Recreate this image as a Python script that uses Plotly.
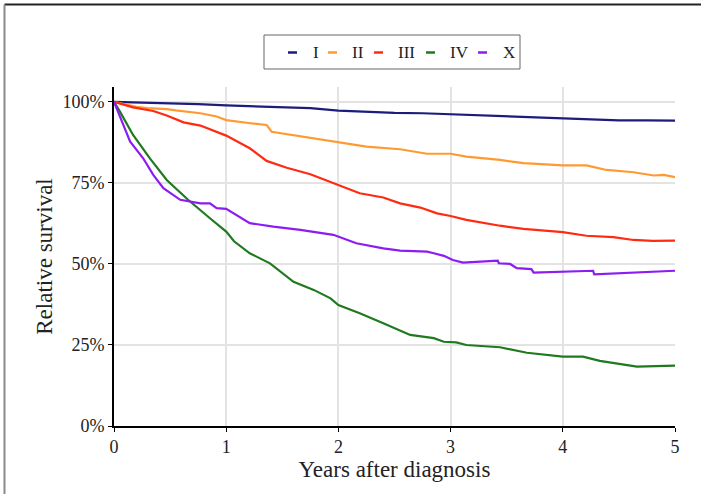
import plotly.graph_objects as go

# ---- data ----
series_names = ["I", "II", "III", "IV", "X"]
series_colors = ["#1c1c7c", "#ff9a33", "#ff2a12", "#1f7a1f", "#8c1cf2"]

t_I = [0, 0.25, 0.5, 0.75, 1.0, 1.25, 1.5, 1.75, 2.0, 2.25, 2.5, 2.75, 3.0, 3.25, 3.5, 3.75, 4.0, 4.25, 4.5, 4.75, 5.0]
s_I = [1.0, 0.998, 0.996, 0.993, 0.989, 0.986, 0.985, 0.981, 0.973, 0.969, 0.966, 0.965, 0.962, 0.959, 0.956, 0.953, 0.950, 0.946, 0.943, 0.943, 0.942]

t_II = [0, 0.1, 0.2, 0.3, 0.47, 0.55, 0.77, 0.915, 1.0, 1.2, 1.36, 1.405, 1.55, 1.75, 2.0, 2.25, 2.55, 2.79, 3.0, 3.14, 3.44, 3.65, 4.0, 4.21, 4.39, 4.63, 4.81, 4.9, 5.0]
s_II = [1.0, 0.993, 0.985, 0.981, 0.978, 0.974, 0.965, 0.955, 0.944, 0.935, 0.929, 0.908, 0.900, 0.888, 0.875, 0.862, 0.854, 0.840, 0.840, 0.831, 0.821, 0.811, 0.804, 0.804, 0.790, 0.783, 0.773, 0.775, 0.768]

t_III = [0, 0.17, 0.35, 0.47, 0.62, 0.77, 1.0, 1.21, 1.36, 1.54, 1.75, 2.0, 2.19, 2.4, 2.55, 2.73, 2.88, 3.0, 3.14, 3.44, 3.65, 4.0, 4.21, 4.45, 4.63, 4.8, 5.0]
s_III = [1.0, 0.983, 0.972, 0.958, 0.937, 0.927, 0.896, 0.857, 0.818, 0.797, 0.777, 0.744, 0.718, 0.705, 0.687, 0.674, 0.656, 0.648, 0.636, 0.618, 0.608, 0.598, 0.587, 0.583, 0.574, 0.571, 0.572]

t_IV = [0, 0.053, 0.17, 0.32, 0.47, 0.66, 0.855, 1.0, 1.07, 1.21, 1.39, 1.6, 1.78, 1.93, 2.0, 2.19, 2.4, 2.55, 2.64, 2.85, 2.94, 3.05, 3.14, 3.44, 3.68, 4.0, 4.18, 4.33, 4.51, 4.66, 5.0]
s_IV = [1.0, 0.970, 0.898, 0.826, 0.759, 0.698, 0.641, 0.600, 0.570, 0.533, 0.502, 0.445, 0.420, 0.394, 0.373, 0.348, 0.317, 0.294, 0.281, 0.271, 0.260, 0.258, 0.250, 0.243, 0.226, 0.214, 0.214, 0.201, 0.190, 0.183, 0.186]

t_X = [0, 0.083, 0.143, 0.26, 0.35, 0.44, 0.59, 0.77, 0.855, 0.915, 1.0, 1.21, 1.42, 1.66, 1.955, 2.16, 2.4, 2.55, 2.79, 2.85, 2.94, 3.02, 3.11, 3.42, 3.43, 3.53, 3.59, 3.72, 3.74, 4.27, 4.28, 5.0]
s_X = [1.0, 0.929, 0.878, 0.826, 0.775, 0.734, 0.698, 0.687, 0.687, 0.672, 0.670, 0.626, 0.615, 0.605, 0.590, 0.564, 0.548, 0.541, 0.538, 0.533, 0.525, 0.512, 0.504, 0.510, 0.502, 0.500, 0.487, 0.484, 0.473, 0.479, 0.468, 0.479]

x_ticks = [0, 1, 2, 3, 4, 5]
y_ticks = [0, 0.25, 0.5, 0.75, 1.0]
y_tick_labels = ["0%", "25%", "50%", "75%", "100%"]

all_t = [t_I, t_II, t_III, t_IV, t_X]
all_s = [s_I, s_II, s_III, s_IV, s_X]

# ---- layout geometry (pixels) ----
W, H = 701, 494
L, R, T, B = 114, 675, 87, 426
FONT = "Liberation Serif"


def px2x(px):
    return (px - L) / (R - L)


def py2y(py):
    return (B - py) / (B - T)


fig = go.Figure()
for name, col, t, s in zip(series_names, series_colors, all_t, all_s):
    fig.add_trace(go.Scatter(x=t, y=s, mode="lines", name=name,
                             line=dict(color=col, width=2.2), showlegend=False))

fig.update_layout(
    width=W, height=H,
    margin=dict(l=L, r=W - R, t=T, b=H - B),
    paper_bgcolor="white", plot_bgcolor="white",
    font=dict(family=FONT, color="#222222", size=17),
)
fig.update_xaxes(
    range=[0, 5], tickvals=x_ticks, ticks="outside", ticklen=4, tickwidth=1.3,
    tickcolor="black", showline=True, linecolor="black", linewidth=1.6,
    showgrid=True, gridcolor="#e3e3e3", gridwidth=1.6, zeroline=False,
    tickfont=dict(size=18, family=FONT, color="#222222"),
    title=dict(text="Years after diagnosis", font=dict(size=23, family=FONT, color="#222222"), standoff=0),
)
fig.update_yaxes(
    range=[0, 1.046], tickvals=y_ticks, ticktext=y_tick_labels, ticks="outside", ticklen=4,
    tickwidth=1.3, tickcolor="black", showline=True, linecolor="black", linewidth=1.6,
    showgrid=True, gridcolor="#e3e3e3", gridwidth=1.6, zeroline=False,
    tickfont=dict(size=18, family=FONT, color="#222222"),
    title=dict(text="Relative survival", font=dict(size=23, family=FONT, color="#222222"), standoff=4),
)

# outer frame lines (top dark, left gray)
fig.add_shape(type="line", xref="paper", yref="paper", x0=px2x(4.5), x1=px2x(W + 5),
              y0=py2y(4.5), y1=py2y(4.5), line=dict(color="#222222", width=2))
fig.add_shape(type="line", xref="paper", yref="paper", x0=px2x(4.5), x1=px2x(4.5),
              y0=py2y(4.5), y1=py2y(H + 5), line=dict(color="#8a8a8a", width=2))

# manual legend
fig.add_shape(type="rect", xref="paper", yref="paper", x0=px2x(264), x1=px2x(520),
              y0=py2y(35), y1=py2y(69), line=dict(color="#666666", width=1), fillcolor="white")
line_x = [288, 328, 374, 426, 478]
text_x = [311, 350, 396, 448, 501]
leg_y = 52.5
for name, col, lx, tx in zip(series_names, series_colors, line_x, text_x):
    fig.add_shape(type="line", xref="paper", yref="paper", x0=px2x(lx), x1=px2x(lx + 9),
                  y0=py2y(leg_y), y1=py2y(leg_y), line=dict(color=col, width=2.5))
    fig.add_annotation(xref="paper", yref="paper", x=px2x(tx), y=py2y(leg_y), text=name,
                       showarrow=False, xanchor="left", yanchor="middle",
                       font=dict(size=17, family=FONT, color="#222222"))

fig.write_html("out.html")
